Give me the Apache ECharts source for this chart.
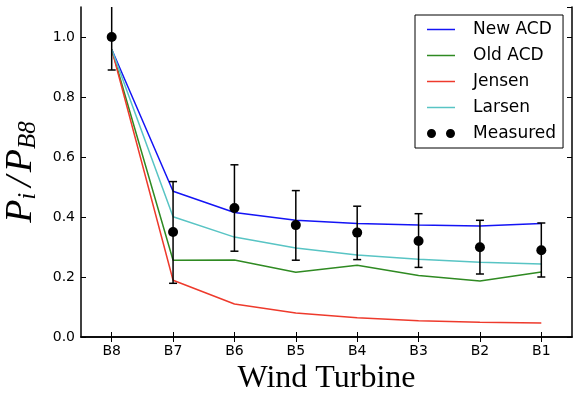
<!DOCTYPE html>
<html><head><meta charset="utf-8">
<script src="https://cdn.jsdelivr.net/npm/echarts@6/dist/echarts.min.js"></script>
<style>html,body{margin:0;padding:0;background:#fff}#c{width:573px;height:396px}</style>
</head><body><div id="c"></div>
<script>
const categories = ['B8','B7','B6','B5','B4','B3','B2','B1'];
const newACD = [0.959,0.486,0.415,0.389,0.378,0.373,0.370,0.378];
const oldACD = [0.959,0.256,0.257,0.216,0.239,0.205,0.187,0.217];
const jensen = [0.959,0.189,0.110,0.080,0.064,0.054,0.049,0.047];
const larsen = [0.959,0.401,0.333,0.297,0.273,0.259,0.249,0.243];
const measured = [1.0,0.35,0.43,0.373,0.348,0.32,0.299,0.289];
const errLow = [0.89,0.179,0.286,0.256,0.258,0.232,0.210,0.200];
const errHigh = [1.11,0.518,0.574,0.488,0.436,0.411,0.389,0.380];
const yTicks = [0.0,0.2,0.4,0.6,0.8,1.0];

const chart = echarts.init(document.getElementById('c'), null, {renderer:'canvas'});
const axisLine = {show:true, lineStyle:{color:'#000', width:1.5}};
const tick = {show:true, inside:true, length:5, lineStyle:{color:'#000', width:1}};
const lineS = (name, data, color) => ({
  name, type:'line', data, symbol:'none', showSymbol:false, xAxisIndex:0, yAxisIndex:0,
  lineStyle:{color, width:1.5}, itemStyle:{color}, z:2, animation:false
});
const twoDots = 'path://M0,4.5a4.5,4.5 0 1,0 9,0a4.5,4.5 0 1,0 -9,0M19,4.5a4.5,4.5 0 1,0 9,0a4.5,4.5 0 1,0 -9,0';
const lineIcon = 'path://M0,0M0,3.75L28,3.75L28,5.25L0,5.25ZM28,9';

chart.setOption({
  animation:false,
  grid:{left:81, right:1, top:7, bottom:59, containLabel:false, outerBoundsMode:'none'},
  xAxis:[
    {type:'category', data:categories, position:'bottom', boundaryGap:true,
     axisLine, axisTick:Object.assign({alignWithLabel:true}, tick),
     axisLabel:{color:'#000', fontFamily:'DejaVu Sans', fontSize:14, margin:7},
     splitLine:{show:false},
     name:'Wind Turbine', nameLocation:'middle', nameGap:23,
     nameTextStyle:{fontFamily:'Liberation Serif', fontSize:32, color:'#000'}},
    {type:'category', data:categories, position:'top', boundaryGap:true,
     axisLine, axisTick:Object.assign({alignWithLabel:true}, tick),
     axisLabel:{show:false}, splitLine:{show:false}}
  ],
  yAxis:[
    {type:'value', min:0, max:1.1, interval:0.2, position:'left',
     axisLine, axisTick:tick, splitLine:{show:false},
     axisLabel:{color:'#000', fontFamily:'DejaVu Sans', fontSize:14, margin:6,
       showMaxLabel:false, formatter:v => yTicks.includes(+v.toFixed(1)) && Math.abs(v-1.1)>1e-6 ? v.toFixed(1) : ''},
     name:'{p|P}{s|i}{sl|/}{p|P}{s|B8}', nameLocation:'middle', nameGap:40, nameRotate:90,
     nameTextStyle:{rich:{
       p:{fontFamily:'Liberation Serif', fontStyle:'italic', fontSize:38, color:'#000'},
       sl:{fontFamily:'Liberation Serif', fontStyle:'italic', fontSize:38, color:'#000', padding:[0,4,0,6]},
       s:{fontFamily:'Liberation Serif', fontStyle:'italic', fontSize:25, color:'#000', padding:[14,0,0,0]}
     }}},
    {type:'value', min:0, max:1.1, interval:0.2, position:'right',
     axisLine, axisTick:tick, splitLine:{show:false}, axisLabel:{show:false}}
  ],
  legend:{
    left:415, top:15, orient:'vertical', itemWidth:28, itemHeight:9, itemGap:9,
    padding:[6,7,6,12], borderColor:'#000', borderWidth:1, backgroundColor:'#fff', borderRadius:0,
    textStyle:{fontFamily:'DejaVu Sans', fontSize:17, color:'#000', padding:[0,0,0,13]},
    data:[
      {name:'New ACD', icon:lineIcon},{name:'Old ACD', icon:lineIcon},
      {name:'Jensen', icon:lineIcon},{name:'Larsen', icon:lineIcon},
      {name:'Measured', icon:twoDots}
    ]
  },
  series:[
    lineS('New ACD', newACD, '#1414f5'),
    lineS('Old ACD', oldACD, '#2f8a22'),
    lineS('Jensen', jensen, '#ee3a2c'),
    lineS('Larsen', larsen, '#58c4c4'),
    {name:'Errorbar', type:'custom', xAxisIndex:0, yAxisIndex:0, clip:true, z:3,
     data: categories.map((c,i)=>[i, errLow[i], errHigh[i]]),
     encode:{x:0, y:[1,2]},
     renderItem:(params, api)=>{
       const x = api.coord([api.value(0), api.value(1)])[0];
       const lo = api.coord([api.value(0), api.value(1)])[1];
       const hi = api.coord([api.value(0), api.value(2)])[1];
       const hw = 4;
       const st = {stroke:'#000', lineWidth:1.5};
       return {type:'group', children:[
         {type:'line', shape:{x1:x,y1:lo,x2:x,y2:hi}, style:st},
         {type:'line', shape:{x1:x-hw,y1:lo,x2:x+hw,y2:lo}, style:st},
         {type:'line', shape:{x1:x-hw,y1:hi,x2:x+hw,y2:hi}, style:st}
       ]};
     }},
    {name:'Measured', type:'scatter', data:measured, symbol:'circle', symbolSize:10,
     itemStyle:{color:'#000', opacity:1}, z:4}
  ]
});
</script></body></html>
